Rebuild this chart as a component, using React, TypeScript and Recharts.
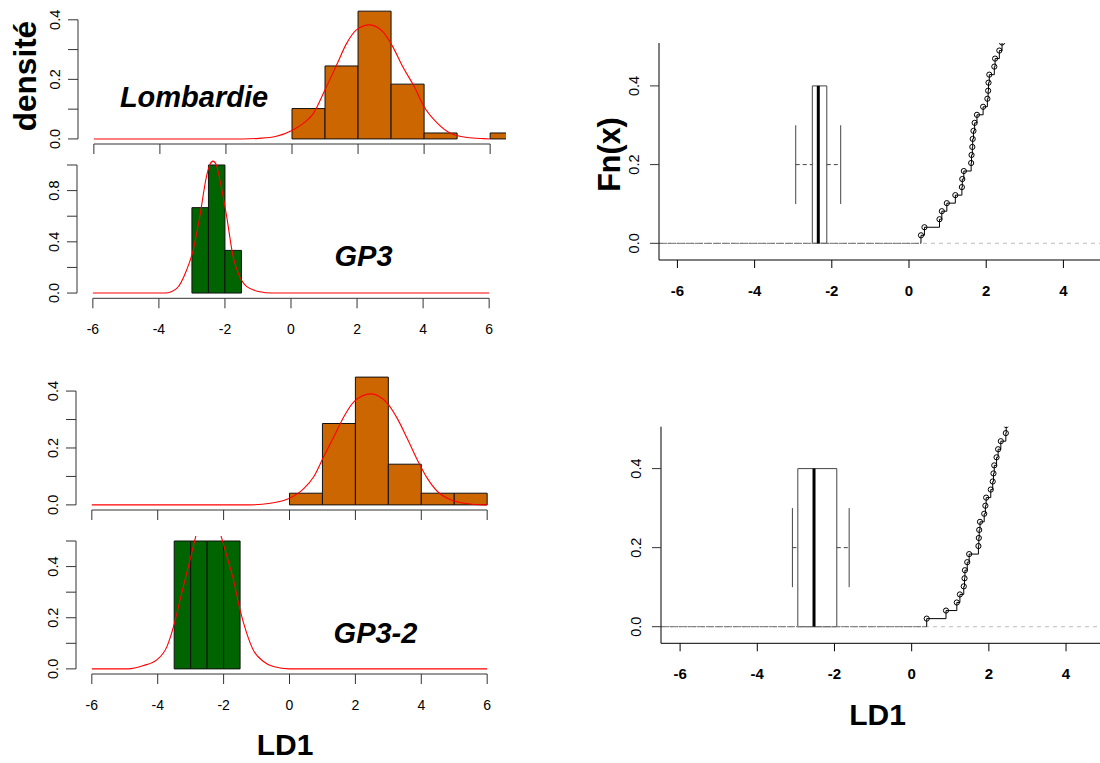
import React from "react";
import { ComposedChart, Line, XAxis, YAxis, ReferenceArea, ReferenceLine } from "recharts";

const FONT = '"Liberation Sans", Arial, Helvetica, sans-serif';
const ORANGE = "#cc6600";
const GREEN = "#006400";

// histogram bins (left edge, right edge) and densities
const lombBinStart = [0, 1, 2, 3, 4, 5, 6];
const lombBinEnd = [1, 2, 3, 4, 5, 6, 7];
const lombDensity = [0.102, 0.245, 0.429, 0.184, 0.02, 0, 0.02];

const gp3BinStart = [-3, -2.5, -2];
const gp3BinEnd = [-2.5, -2, -1.5];
const gp3Density = [0.667, 1.0, 0.333];

const lomb2BinStart = [0, 1, 2, 3, 4, 5];
const lomb2BinEnd = [1, 2, 3, 4, 5, 6];
const lomb2Density = [0.041, 0.286, 0.449, 0.143, 0.041, 0.041];

const gp32BinStart = [-3.5, -3, -2.5, -2];
const gp32BinEnd = [-3, -2.5, -2, -1.5];
const gp32Density = [0.5, 0.5, 0.5, 0.5];

// red density curves
const lombCurveX = [-6, -1.5, -1, -0.5, 0, 0.35, 0.65, 1.0, 1.35, 1.65, 1.95, 2.35, 2.75, 3.05, 3.35, 3.7, 4.0, 4.4, 4.8, 5.3, 5.8, 6];
const lombCurveY = [0, 0, 0.002, 0.008, 0.028, 0.053, 0.086, 0.165, 0.248, 0.32, 0.366, 0.383, 0.36, 0.31, 0.243, 0.176, 0.108, 0.053, 0.019, 0.005, 0.001, 0];

const gp3CurveX = [-6, -3.8, -3.46, -3.16, -2.96, -2.76, -2.56, -2.46, -2.36, -2.26, -2.15, -1.95, -1.75, -1.55, -1.34, -0.94, -0.6, 6];
const gp3CurveY = [0, 0, 0.036, 0.18, 0.336, 0.6, 0.91, 1.0, 1.03, 1.0, 0.88, 0.6, 0.28, 0.127, 0.05, 0.01, 0, 0];

const lomb2CurveX = [-6, -1.2, -0.58, 0, 0.44, 0.74, 1.04, 1.35, 1.65, 1.96, 2.46, 2.97, 3.27, 3.57, 3.88, 4.18, 4.49, 4.89, 5.3, 5.9, 6];
const lomb2CurveY = [0, 0, 0.006, 0.023, 0.058, 0.1, 0.17, 0.24, 0.31, 0.363, 0.39, 0.357, 0.304, 0.234, 0.158, 0.094, 0.047, 0.018, 0.006, 0, 0];

const gp32CurveX = [-6, -4.9, -4.43, -4.03, -3.72, -3.52, -3.32, -3.12, -2.92, -2.84, -2.65, -2.46, -2.27, -2.08, -1.9, -1.7, -1.5, -1.3, -1.1, -0.79, -0.49, 0, 6];
const gp32CurveY = [0, 0, 0.013, 0.035, 0.087, 0.165, 0.27, 0.374, 0.478, 0.52, 0.58, 0.6, 0.58, 0.52, 0.44, 0.348, 0.23, 0.14, 0.074, 0.029, 0.009, 0, 0];

// empirical cdf: sorted LD1 values (Lombardie), n = 49
const sampleSize = 49;
const ecdfTopX = [0.31, 0.4, 0.79, 0.85, 0.98, 1.2, 1.37, 1.38, 1.42, 1.61, 1.62, 1.64, 1.65, 1.67, 1.7, 1.76, 1.92, 2.03, 2.05, 2.06, 2.08, 2.21, 2.23, 2.34, 2.41, 2.44];
const ecdfBottomX = [0.39, 0.89, 1.17, 1.25, 1.35, 1.37, 1.38, 1.44, 1.49, 1.73, 1.74, 1.75, 1.77, 1.88, 1.91, 1.93, 2.05, 2.1, 2.12, 2.14, 2.2, 2.24, 2.31, 2.44, 2.45];

// boxplots: min, q1, median, q3, max
const gp3Box = [-2.935, -2.505, -2.35, -2.13, -1.77];
const gp32Box = [-3.09, -2.95, -2.53, -1.94, -1.62];

const histXTicks = [-6, -4, -2, 0, 2, 4, 6];
const ecdfXTicks = [-6, -4, -2, 0, 2, 4];
const ecdfYTicks = [0, 0.2, 0.4];

const toPoints = (xs: number[], ys: number[]) => xs.map((x, i) => ({ x, y: ys[i] }));
const fmt = (v: number) => v.toFixed(1);

type Region = { left: number; right: number; top: number; bottom: number };

function HistPanel({
  region, chartTop, yDomain, yTicks, yLabels, starts, ends, dens, color, curve, showXLabels
}: {
  region: Region; chartTop: number; yDomain: number[]; yTicks: number[]; yLabels: number[];
  starts: number[]; ends: number[]; dens: number[]; color: string;
  curve: { x: number; y: number }[]; showXLabels: boolean;
}) {
  const xDomain = [-6.48, 6.48];
  const chartW = region.right + 12;
  const chartH = region.bottom - chartTop + 45;
  const xAxisH = chartTop + chartH - region.bottom;
  const rel = (v: number) => v - chartTop;

  return (
    <div style={{ position: "absolute", left: 0, top: chartTop }}>
      <ComposedChart
        width={chartW}
        height={chartH}
        data={curve}
        margin={{ top: rel(region.top), right: chartW - region.right, bottom: 0, left: 0 }}
      >
        <XAxis
          type="number"
          dataKey="x"
          domain={xDomain}
          allowDataOverflow
          ticks={histXTicks}
          interval={0}
          tickSize={10}
          axisLine={false}
          tickLine={{ stroke: "#333" }}
          height={xAxisH}
          tick={(p: any) =>
            showXLabels ? (
              <text x={p.x} y={rel(region.bottom) + 36} textAnchor="middle" fontSize={14} fontFamily={FONT} fill="#000">
                {String(p.payload.value)}
              </text>
            ) : (
              <g />
            )
          }
        />
        <YAxis
          type="number"
          domain={yDomain}
          allowDataOverflow
          ticks={yTicks}
          interval={0}
          tickSize={10}
          axisLine={false}
          tickLine={{ stroke: "#333" }}
          width={region.left}
          tick={(p: any) =>
            yLabels.some((l) => Math.abs(l - p.payload.value) < 1e-6) ? (
              <text
                transform={`translate(${region.left - 23},${p.y}) rotate(-90)`}
                textAnchor="middle"
                dy="0.36em"
                fontSize={14.5}
                fontFamily={FONT}
                fill="#000"
              >
                {fmt(p.payload.value)}
              </text>
            ) : (
              <g />
            )
          }
        />
        {starts.map((s, i) => (
          <ReferenceArea
            key={i}
            x1={s}
            x2={ends[i]}
            y1={0}
            y2={dens[i]}
            fill={color}
            fillOpacity={1}
            stroke="#111"
            strokeWidth={1}
            ifOverflow="hidden"
          />
        ))}
        <ReferenceLine
          segment={[{ x: xDomain[0], y: 0 }, { x: xDomain[0], y: yTicks[yTicks.length - 1] }]}
          stroke="#333"
          ifOverflow="visible"
        />
        <ReferenceLine
          segment={[{ x: -6, y: yDomain[0] }, { x: 6, y: yDomain[0] }]}
          stroke="#333"
          ifOverflow="visible"
        />
        <Line dataKey="y" type="monotone" stroke="#ff0000" strokeWidth={1.1} dot={false} isAnimationActive={false} />
      </ComposedChart>
    </div>
  );
}

function EcdfPanel({
  region, chartTop, xDomain, yDomain, ecdfX, box
}: {
  region: Region; chartTop: number; xDomain: number[]; yDomain: number[]; ecdfX: number[]; box: number[];
}) {
  const chartLeft = 560;
  const chartW = 1100 - chartLeft;
  const chartH = region.bottom - chartTop + 45;
  const xAxisH = chartTop + chartH - region.bottom;
  const rel = (v: number) => v - chartTop;
  const data = [{ x: ecdfX[0], y: 0 }, ...ecdfX.map((x, i) => ({ x, y: (i + 1) / sampleSize }))];
  const [bMin, q1, med, q3, bMax] = box;

  return (
    <div style={{ position: "absolute", left: chartLeft, top: chartTop }}>
      <ComposedChart
        width={chartW}
        height={chartH}
        data={data}
        margin={{ top: rel(region.top), right: chartLeft + chartW - region.right, bottom: 0, left: 0 }}
      >
        <XAxis
          type="number"
          dataKey="x"
          domain={xDomain}
          allowDataOverflow
          ticks={ecdfXTicks}
          interval={0}
          tickSize={8}
          axisLine={{ stroke: "#000" }}
          tickLine={{ stroke: "#000" }}
          height={xAxisH}
          tick={(p: any) => (
            <text x={p.x} y={rel(region.bottom) + 35.5} textAnchor="middle" fontSize={15} fontWeight="bold" fontFamily={FONT} fill="#000">
              {String(p.payload.value)}
            </text>
          )}
        />
        <YAxis
          type="number"
          domain={yDomain}
          allowDataOverflow
          ticks={ecdfYTicks}
          interval={0}
          tickSize={9}
          axisLine={{ stroke: "#000" }}
          tickLine={{ stroke: "#333" }}
          width={region.left - chartLeft}
          tick={(p: any) => (
            <text
              transform={`translate(${region.left - chartLeft - 25.5},${p.y}) rotate(-90)`}
              textAnchor="middle"
              dy="0.36em"
              fontSize={14.5}
              fontFamily={FONT}
              fill="#000"
            >
              {fmt(p.payload.value)}
            </text>
          )}
        />
        <ReferenceLine y={0} stroke="#bdbdbd" strokeDasharray="4 4" ifOverflow="hidden" />
        <ReferenceLine
          segment={[{ x: xDomain[0], y: 0 }, { x: ecdfX[0], y: 0 }]}
          stroke="#707070"
          strokeDasharray="8 1"
          ifOverflow="hidden"
        />
        <ReferenceArea x1={q1} x2={q3} y1={0} y2={0.4} fill="none" fillOpacity={0} stroke="#444" strokeWidth={1} ifOverflow="visible" />
        <ReferenceLine segment={[{ x: bMin, y: 0.2 }, { x: q1, y: 0.2 }]} stroke="#444" strokeDasharray="4 3" ifOverflow="visible" />
        <ReferenceLine segment={[{ x: q3, y: 0.2 }, { x: bMax, y: 0.2 }]} stroke="#444" strokeDasharray="4 3" ifOverflow="visible" />
        <ReferenceLine segment={[{ x: bMin, y: 0.1 }, { x: bMin, y: 0.3 }]} stroke="#444" ifOverflow="visible" />
        <ReferenceLine segment={[{ x: bMax, y: 0.1 }, { x: bMax, y: 0.3 }]} stroke="#444" ifOverflow="visible" />
        <ReferenceLine segment={[{ x: med, y: 0 }, { x: med, y: 0.4 }]} stroke="#000" strokeWidth={3} ifOverflow="visible" />
        <Line
          dataKey="y"
          type="stepAfter"
          stroke="#000"
          strokeWidth={1}
          isAnimationActive={false}
          dot={(p: any) =>
            p.index === 0 ? (
              <g key={`d${p.index}`} />
            ) : (
              <circle key={`d${p.index}`} cx={p.cx} cy={p.cy} r={2.6} fill="none" stroke="#000" strokeWidth={1} />
            )
          }
        />
      </ComposedChart>
    </div>
  );
}

export default function App() {
  return (
    <div
      style={{
        position: "absolute",
        left: 0,
        top: 0,
        width: 1100,
        height: 763,
        background: "#fff",
        overflow: "hidden",
        fontFamily: FONT
      }}
    >
      <HistPanel
        region={{ left: 78, right: 506, top: 6.1, bottom: 144 }}
        chartTop={0}
        yDomain={[-0.017, 0.446]}
        yTicks={[0, 0.1, 0.2, 0.3, 0.4]}
        yLabels={[0, 0.2, 0.4]}
        starts={lombBinStart}
        ends={lombBinEnd}
        dens={lombDensity}
        color={ORANGE}
        curve={toPoints(lombCurveX, lombCurveY)}
        showXLabels={false}
      />
      <HistPanel
        region={{ left: 77, right: 505, top: 155.9, bottom: 298.3 }}
        chartTop={150}
        yDomain={[-0.041, 1.071]}
        yTicks={[0, 0.2, 0.4, 0.6, 0.8, 1.0]}
        yLabels={[0, 0.4, 0.8]}
        starts={gp3BinStart}
        ends={gp3BinEnd}
        dens={gp3Density}
        color={GREEN}
        curve={toPoints(gp3CurveX, gp3CurveY)}
        showXLabels={true}
      />
      <HistPanel
        region={{ left: 76, right: 503, top: 372, bottom: 510 }}
        chartTop={365}
        yDomain={[-0.018, 0.467]}
        yTicks={[0, 0.1, 0.2, 0.3, 0.4]}
        yLabels={[0, 0.2, 0.4]}
        starts={lomb2BinStart}
        ends={lomb2BinEnd}
        dens={lomb2Density}
        color={ORANGE}
        curve={toPoints(lomb2CurveX, lomb2CurveY)}
        showXLabels={false}
      />
      <HistPanel
        region={{ left: 76, right: 503, top: 535.9, bottom: 674 }}
        chartTop={528}
        yDomain={[-0.02, 0.52]}
        yTicks={[0, 0.1, 0.2, 0.3, 0.4, 0.5]}
        yLabels={[0, 0.2, 0.4]}
        starts={gp32BinStart}
        ends={gp32BinEnd}
        dens={gp32Density}
        color={GREEN}
        curve={toPoints(gp32CurveX, gp32CurveY)}
        showXLabels={true}
      />
      <EcdfPanel
        region={{ left: 659, right: 1100, top: 43, bottom: 260 }}
        chartTop={30}
        xDomain={[-6.477, 4.948]}
        yDomain={[-0.0424, 0.509]}
        ecdfX={ecdfTopX}
        box={gp3Box}
      />
      <EcdfPanel
        region={{ left: 661, right: 1100, top: 426.7, bottom: 643.3 }}
        chartTop={415}
        xDomain={[-6.495, 4.88]}
        yDomain={[-0.042, 0.506]}
        ecdfX={ecdfBottomX}
        box={gp32Box}
      />
      <svg width={1100} height={763} style={{ position: "absolute", left: 0, top: 0, pointerEvents: "none" }}>
        <g fontFamily={FONT} fill="#000">
          <text transform="translate(36,76) rotate(-90)" textAnchor="middle" fontSize={31.5} fontWeight="bold">
            densité
          </text>
          <text transform="translate(620,154.5) rotate(-90)" textAnchor="middle" fontSize={30.5} fontWeight="bold">
            Fn(x)
          </text>
          <text x={285} y={754.5} textAnchor="middle" fontSize={30} fontWeight="bold">
            LD1
          </text>
          <text x={877.5} y={725} textAnchor="middle" fontSize={30} fontWeight="bold">
            LD1
          </text>
          <text x={194} y={107.3} textAnchor="middle" fontSize={29} fontWeight="bold" fontStyle="italic">
            Lombardie
          </text>
          <text x={363.5} y={266} textAnchor="middle" fontSize={29} fontWeight="bold" fontStyle="italic">
            GP3
          </text>
          <text x={375.5} y={642.7} textAnchor="middle" fontSize={29} fontWeight="bold" fontStyle="italic">
            GP3-2
          </text>
        </g>
      </svg>
    </div>
  );
}
